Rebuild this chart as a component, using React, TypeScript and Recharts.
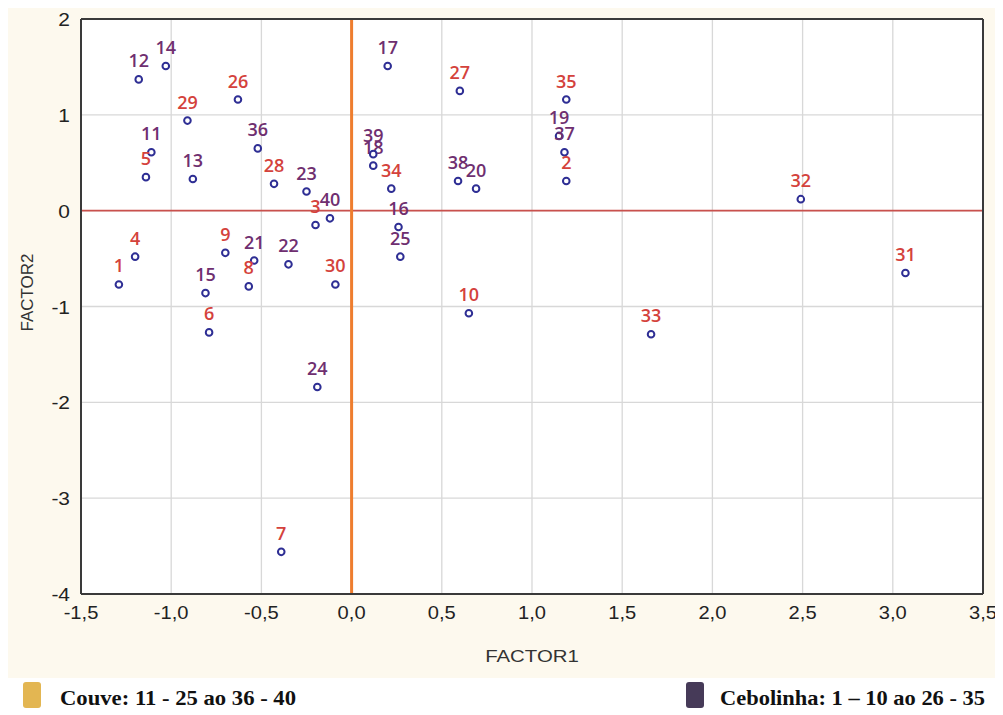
import React from 'react';
import {
  ScatterChart,
  Scatter,
  XAxis,
  YAxis,
  CartesianGrid,
  ReferenceLine,
  Label,
} from 'recharts';

// ---- data ----
const pointIds = [
  1, 2, 3, 4, 5, 6, 7, 8, 9, 10,
  11, 12, 13, 14, 15, 16, 17, 18, 19, 20,
  21, 22, 23, 24, 25, 26, 27, 28, 29, 30,
  31, 32, 33, 34, 35, 36, 37, 38, 39, 40,
];
const factor1 = [
  -1.29, 1.19, -0.2, -1.2, -1.14, -0.79, -0.39, -0.57, -0.7, 0.65,
  -1.11, -1.18, -0.88, -1.03, -0.81, 0.26, 0.2, 0.12, 1.15, 0.69,
  -0.54, -0.35, -0.25, -0.19, 0.27, -0.63, 0.6, -0.43, -0.91, -0.09,
  3.07, 2.49, 1.66, 0.22, 1.19, -0.52, 1.18, 0.59, 0.12, -0.12,
];
const factor2 = [
  -0.77, 0.31, -0.15, -0.48, 0.35, -1.27, -3.56, -0.79, -0.44, -1.07,
  0.61, 1.37, 0.33, 1.51, -0.86, -0.17, 1.51, 0.47, 0.78, 0.23,
  -0.52, -0.56, 0.2, -1.84, -0.48, 1.16, 1.25, 0.28, 0.94, -0.77,
  -0.65, 0.12, -1.29, 0.23, 1.16, 0.65, 0.61, 0.31, 0.59, -0.08,
];
// groups: Cebolinha = 1–10 and 26–35, Couve = 11–25 and 36–40
const cebolinhaRanges = [
  [1, 10],
  [26, 35],
];
const xTicks = [-1.5, -1, -0.5, 0, 0.5, 1, 1.5, 2, 2.5, 3, 3.5];
const yTicks = [-4, -3, -2, -1, 0, 1, 2];
const xMinorTicks = Array.from({ length: 51 }, (_, i) => Math.round((-1.5 + i * 0.1) * 100) / 100);
const yMinorTicks = Array.from({ length: 25 }, (_, i) => -4 + i * 0.25);
const xTitle = 'FACTOR1';
const yTitle = 'FACTOR2';
const legendLabels = ['Couve: 11 - 25 ao 36 - 40', 'Cebolinha: 1 – 10 ao 26 - 35'];

// ---- styles ----
const RED = '#D4423C';
const PURPLE = '#6F2F70';
const RING = '#2E2E94';
const FRAME = '#3A3A3A';
const TICK_FONT = '"Liberation Sans", Arial, sans-serif';

const points = pointIds.map((id, i) => ({ id, x: factor1[i], y: factor2[i] }));
const isCebolinha = (id: number) => cebolinhaRanges.some(([a, b]) => id >= a && id <= b);
const cebolinhaPoints = points.filter((p) => isCebolinha(p.id));
const couvePoints = points.filter((p) => !isCebolinha(p.id));

const fmt = (v: number) => v.toFixed(1).replace('.', ',');

const makeShape = (color: string) => (props: any) => {
  const { cx, cy, payload } = props;
  if (cx == null || cy == null) return <g />;
  return (
    <g>
      <text
        x={cx}
        y={cy - 12}
        textAnchor="middle"
        fontFamily='"Open Sans", "Noto Sans", sans-serif'
        fontSize={18}
        fontWeight={600}
        fill={color}
      >
        {payload.id}
      </text>
      <circle cx={cx} cy={cy} r={3.3} fill="#fff" stroke={RING} strokeWidth={2} />
    </g>
  );
};

const XTick = (props: any) => {
  const { x, y, payload } = props;
  return (
    <text
      transform={`translate(${x},${y + 17}) scale(1.06,1)`}
      textAnchor="middle"
      fontFamily={TICK_FONT}
      fontSize={19}
      fill="#222"
    >
      {fmt(payload.value)}
    </text>
  );
};

const YTick = (props: any) => {
  const { x, y, payload } = props;
  return (
    <text
      transform={`translate(${x - 3},${y + 7}) scale(1.1,1)`}
      textAnchor="end"
      fontFamily={TICK_FONT}
      fontSize={19}
      fill="#222"
    >
      {String(payload.value)}
    </text>
  );
};

const XTitle = (props: any) => {
  const vb = props.viewBox || {};
  const cx = vb.x + vb.width / 2;
  return (
    <text
      transform={`translate(${cx},${vb.y + 68}) scale(1.2,1)`}
      textAnchor="middle"
      fontFamily={TICK_FONT}
      fontSize={17}
      fill="#333"
    >
      {xTitle}
    </text>
  );
};

const YTitle = (props: any) => {
  const vb = props.viewBox || {};
  const cy = vb.y + vb.height / 2 - 14;
  return (
    <text
      transform={`translate(${vb.x + 25},${cy}) rotate(-90)`}
      textAnchor="middle"
      fontFamily={TICK_FONT}
      fontSize={17}
      fill="#333"
    >
      {yTitle}
    </text>
  );
};

export default function App() {
  return (
    <div style={{ width: 995, background: '#fff' }}>
      <div style={{ position: 'relative', width: 995, height: 670 }}>
        <div
          style={{
            position: 'absolute',
            left: 0,
            top: 0,
            width: 987,
            height: 670,
            background: '#FDF9EE',
          }}
        />
        <div style={{ position: 'absolute', left: 0, top: 0 }}>
          <ScatterChart
            width={995}
            height={670}
            margin={{ top: 11, right: 20, left: 0, bottom: 0 }}
          >
            <CartesianGrid
              xAxisId="x"
              yAxisId="y"
              stroke="#D8D8D8"
              strokeWidth={1.3}
              fill="#ffffff"
              fillOpacity={1}
            />
            <XAxis
              xAxisId="x"
              type="number"
              dataKey="x"
              domain={[-1.5, 3.5]}
              ticks={xTicks}
              interval={0}
              allowDataOverflow
              tickLine={false}
              axisLine={{ stroke: FRAME, strokeWidth: 2 }}
              height={84}
              tick={<XTick />}
            >
              <Label content={<XTitle />} />
            </XAxis>
            <YAxis
              yAxisId="y"
              type="number"
              dataKey="y"
              domain={[-4, 2]}
              ticks={yTicks}
              interval={0}
              allowDataOverflow
              tickLine={false}
              axisLine={{ stroke: FRAME, strokeWidth: 2 }}
              width={73}
              tick={<YTick />}
            >
              <Label content={<YTitle />} />
            </YAxis>
            <XAxis
              xAxisId="xt"
              orientation="top"
              mirror
              type="number"
              domain={[-1.5, 3.5]}
              ticks={xMinorTicks}
              interval={0}
              allowDataOverflow
              tick={false}
              tickSize={4}
              tickLine={{ stroke: '#666' }}
              axisLine={{ stroke: FRAME, strokeWidth: 2 }}
            />
            <XAxis
              xAxisId="xb"
              orientation="bottom"
              mirror
              type="number"
              domain={[-1.5, 3.5]}
              ticks={xMinorTicks}
              interval={0}
              allowDataOverflow
              tick={false}
              tickSize={4}
              tickLine={{ stroke: '#666' }}
              axisLine={false}
            />
            <YAxis
              yAxisId="yl"
              orientation="left"
              mirror
              type="number"
              domain={[-4, 2]}
              ticks={yMinorTicks}
              interval={0}
              allowDataOverflow
              tick={false}
              tickSize={4}
              tickLine={{ stroke: '#666' }}
              axisLine={false}
            />
            <YAxis
              yAxisId="yr"
              orientation="right"
              mirror
              type="number"
              domain={[-4, 2]}
              ticks={yMinorTicks}
              interval={0}
              allowDataOverflow
              tick={false}
              tickSize={4}
              tickLine={{ stroke: '#666' }}
              axisLine={{ stroke: FRAME, strokeWidth: 2 }}
            />
            <ReferenceLine xAxisId="x" yAxisId="y" y={0} stroke="#C9514D" strokeWidth={1.8} />
            <ReferenceLine xAxisId="x" yAxisId="y" x={0} stroke="#EE7D2E" strokeWidth={3} />
            <Scatter
              xAxisId="x"
              yAxisId="y"
              data={couvePoints}
              shape={makeShape(PURPLE)}
              isAnimationActive={false}
            />
            <Scatter
              xAxisId="x"
              yAxisId="y"
              data={cebolinhaPoints}
              shape={makeShape(RED)}
              isAnimationActive={false}
            />
          </ScatterChart>
        </div>
      </div>
      <svg width={995} height={37} style={{ display: 'block' }}>
        <rect x={15} y={4} width={18} height={26} rx={3} fill="#E3B652" />
        <text
          x={52}
          y={27}
          textLength={236}
          lengthAdjust="spacingAndGlyphs"
          fontFamily='"Liberation Serif", "DejaVu Serif", serif'
          fontWeight="bold"
          fontSize={22}
          fill="#111"
        >
          {legendLabels[0]}
        </text>
        <rect x={678} y={4} width={18} height={26} rx={3} fill="#463A58" />
        <text
          x={712}
          y={27}
          textLength={265}
          lengthAdjust="spacingAndGlyphs"
          fontFamily='"Liberation Serif", "DejaVu Serif", serif'
          fontWeight="bold"
          fontSize={22}
          fill="#111"
        >
          {legendLabels[1]}
        </text>
      </svg>
    </div>
  );
}
